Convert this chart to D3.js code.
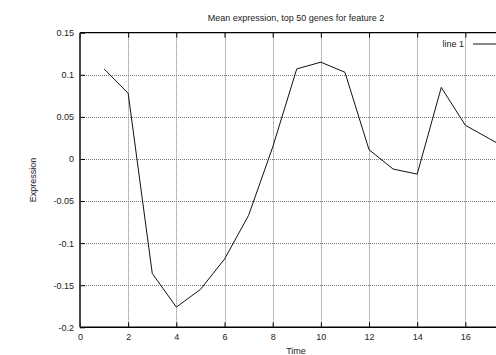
<!DOCTYPE html>
<html lang="en">
<head>
<meta charset="utf-8">
<title>Mean expression</title>
<script src="https://cdn.jsdelivr.net/npm/d3@7"></script>
<style>
  body { margin: 0; background: #fff; }
  svg { display: block; font-family: "Liberation Sans", Arial, sans-serif; }
</style>
</head>
<body>
<script>
// data
var times = [1, 2, 3, 4, 5, 6, 7, 8, 9, 10, 11, 12, 13, 14, 15, 16, 17, 18];
var expression = [0.107, 0.078, -0.136, -0.176, -0.155, -0.119, -0.067, 0.014, 0.107, 0.115, 0.103,
                  0.011, -0.012, -0.018, 0.085, 0.040, 0.024, 0.008];
var xTicks = [0, 2, 4, 6, 8, 10, 12, 14, 16];
var yTicks = [-0.2, -0.15, -0.1, -0.05, 0, 0.05, 0.1, 0.15];

var width = 496, height = 355;
// plot box (right edge runs past the picture, as in the reference)
var mLeft = 80, mTop = 32.7, mBottom = 327.3, mRight = 561.7;

var svg = d3.select("body").append("svg")
    .attr("width", width)
    .attr("height", height);

var x = d3.scaleLinear().domain([0, 20]).range([mLeft, mRight]);
var y = d3.scaleLinear().domain([-0.2, 0.15]).range([mBottom, mTop]);

// grid
svg.append("g").selectAll("line").data(xTicks.filter(function(d) { return d > 0; }))
  .enter().append("line")
    .attr("x1", function(d) { return Math.round(x(d)) + 0.5; })
    .attr("x2", function(d) { return Math.round(x(d)) + 0.5; })
    .attr("y1", mTop).attr("y2", mBottom)
    .attr("stroke", "#777").attr("stroke-dasharray", "1,1");
svg.append("g").selectAll("line").data(yTicks.filter(function(d) { return d > -0.2 && d < 0.15; }))
  .enter().append("line")
    .attr("y1", function(d) { return Math.round(y(d)) + 0.5; })
    .attr("y2", function(d) { return Math.round(y(d)) + 0.5; })
    .attr("x1", mLeft).attr("x2", mRight)
    .attr("stroke", "#777").attr("stroke-dasharray", "1,1");

// axes with inward ticks
var xAxis = svg.append("g").attr("transform", "translate(0," + mBottom + ")")
    .call(d3.axisBottom(x).tickValues(xTicks).tickSize(-5).tickPadding(6)
      .tickFormat(d3.format("d")));
var xTop = svg.append("g").attr("transform", "translate(0," + mTop + ")")
    .call(d3.axisTop(x).tickValues(xTicks).tickSize(-5).tickFormat(""));
var yAxis = svg.append("g").attr("transform", "translate(" + mLeft + ",0)")
    .call(d3.axisLeft(y).tickValues(yTicks).tickSize(-5).tickPadding(6)
      .tickFormat(function(d) { return String(+d.toFixed(2)); }));

[xAxis, xTop, yAxis].forEach(function(g) {
  g.select(".domain").remove();
  g.selectAll("line").attr("stroke", "#000");
  g.selectAll("text").attr("font-size", 9).attr("fill", "#222")
    .attr("font-family", "Liberation Sans, Arial, sans-serif");
});

// border
svg.append("line").attr("x1", mLeft).attr("x2", mRight).attr("y1", mTop).attr("y2", mTop)
  .attr("stroke", "#000").attr("stroke-width", 1.2);
svg.append("line").attr("x1", mLeft).attr("x2", mRight).attr("y1", mBottom).attr("y2", mBottom)
  .attr("stroke", "#000").attr("stroke-width", 1.6);
svg.append("line").attr("x1", mLeft).attr("x2", mLeft).attr("y1", mTop).attr("y2", mBottom)
  .attr("stroke", "#333").attr("stroke-width", 1.8);

// data line
var line = d3.line()
    .x(function(d, i) { return x(times[i]); })
    .y(function(d) { return y(d); });
svg.append("path").datum(expression)
    .attr("d", line)
    .attr("fill", "none")
    .attr("stroke", "#111")
    .attr("stroke-width", 1);

// legend
svg.append("text").attr("x", 464).attr("y", 47).attr("text-anchor", "end")
  .attr("font-size", 9).attr("fill", "#222").text("line 1");
svg.append("line").attr("x1", 473).attr("x2", 520).attr("y1", 44).attr("y2", 44)
  .attr("stroke", "#111");

// title and axis labels
svg.append("text").attr("x", 296).attr("y", 21).attr("text-anchor", "middle")
  .attr("font-size", 9).attr("fill", "#222")
  .text("Mean expression, top 50 genes for feature 2");
svg.append("text").attr("x", 296).attr("y", 354).attr("text-anchor", "middle")
  .attr("font-size", 9).attr("fill", "#222").text("Time");
svg.append("text").attr("transform", "translate(36,180) rotate(-90)")
  .attr("text-anchor", "middle").attr("font-size", 9).attr("fill", "#222")
  .text("Expression");
</script>
</body>
</html>
